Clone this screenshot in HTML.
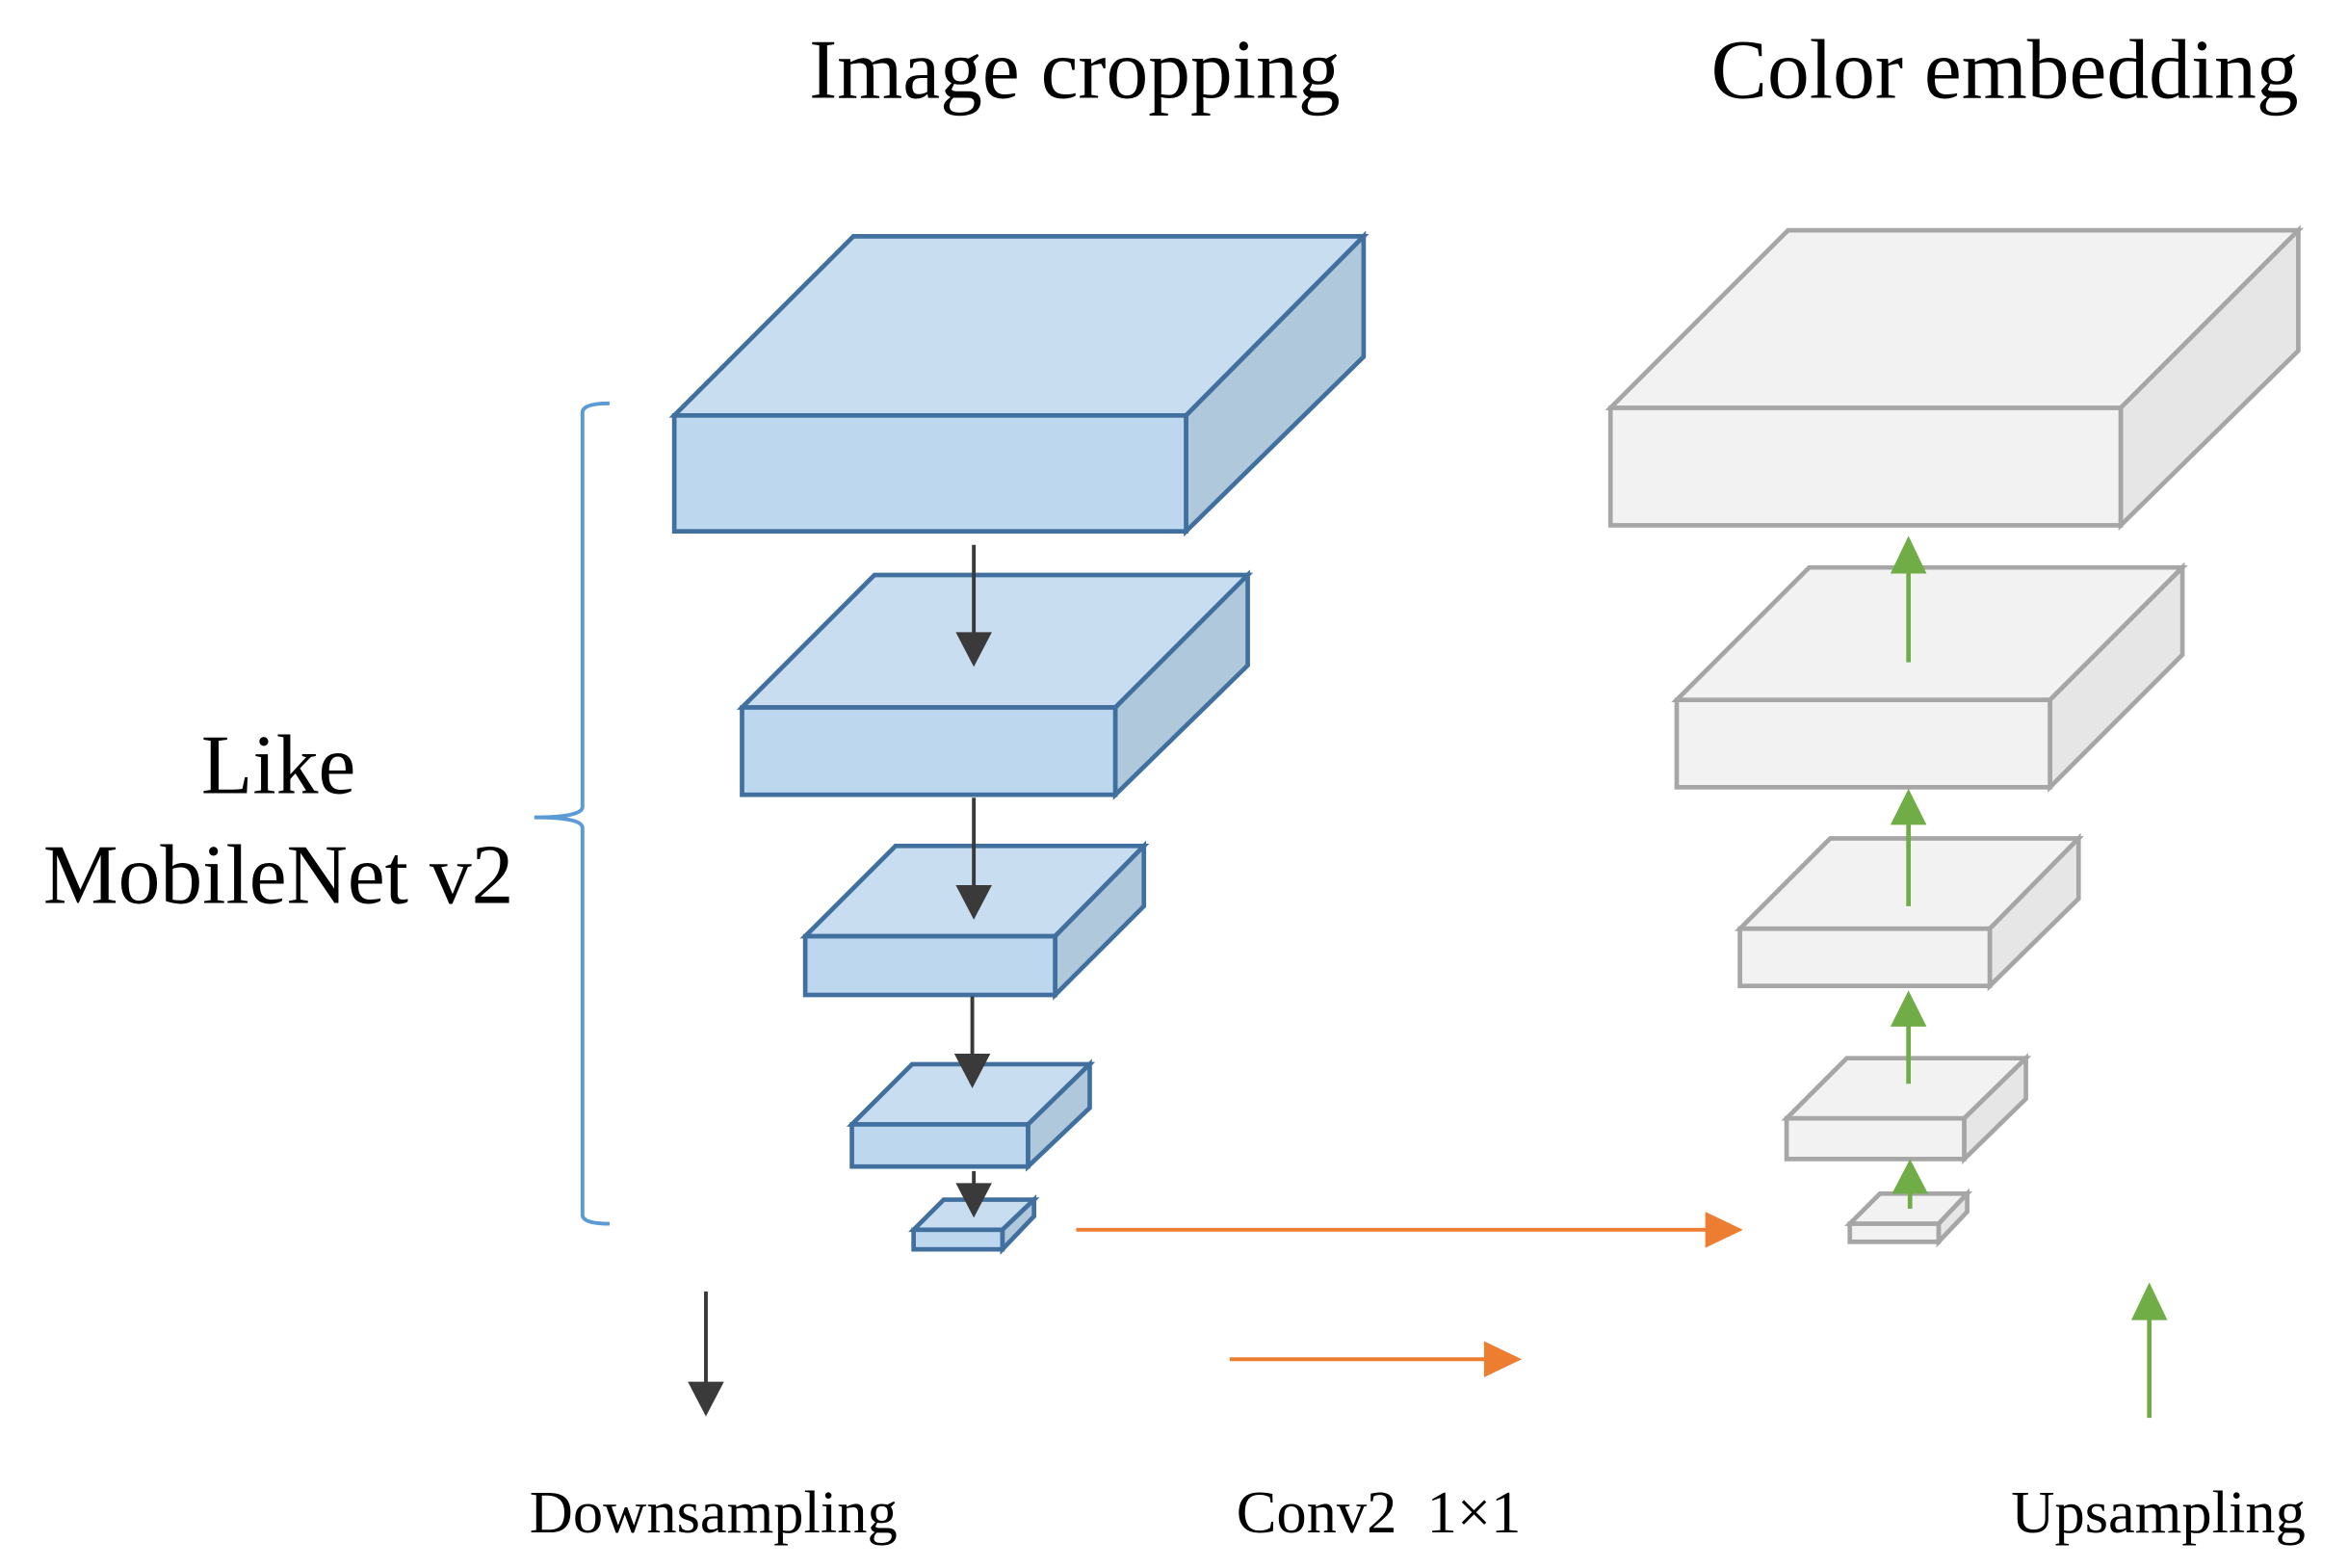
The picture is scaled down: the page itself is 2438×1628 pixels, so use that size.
<!DOCTYPE html>
<html><head><meta charset="utf-8"><style>html,body{margin:0;padding:0;background:#fff}svg{display:block}</style></head>
<body>
<svg width="2438" height="1628" viewBox="0 0 1560 1041.7" preserveAspectRatio="none" xmlns="http://www.w3.org/2000/svg" font-family="Liberation Serif, serif">
<defs>
<marker id="ad" markerWidth="8" markerHeight="8" refX="7" refY="4" orient="auto" markerUnits="userSpaceOnUse" viewBox="0 0 8 8"><path d="M0,0 L8,4 L0,8z" fill="#3a3a3a"/></marker>
</defs>
<g stroke="#41709f" stroke-width="3" stroke-linejoin="miter">
<!-- B1 -->
<polygon points="448,276 567,157 906,157 788,276" fill="#c8ddf0"/>
<polygon points="788,276 906,157 906,237 788,353" fill="#b0c8dc"/>
<rect x="448" y="276" width="340" height="77" fill="#bdd7ee"/>
<!-- B2 -->
<polygon points="493,470 581,382 829,382 741,470" fill="#c8ddf0"/>
<polygon points="741,470 829,382 829,442 741,528" fill="#b0c8dc"/>
<rect x="493" y="470" width="248" height="58" fill="#bdd7ee"/>
<!-- B3 -->
<polygon points="535,622 595,562 760,562 701,622" fill="#c8ddf0"/>
<polygon points="701,622 760,562 760,602 701,661" fill="#b0c8dc"/>
<rect x="535" y="622" width="166" height="39" fill="#bdd7ee"/>
<!-- B4 -->
<polygon points="566,747 606,707 724,707 683,747" fill="#c8ddf0"/>
<polygon points="683,747 724,707 724,736 683,775" fill="#b0c8dc"/>
<rect x="566" y="747" width="117" height="28" fill="#bdd7ee"/>
<!-- B5 -->
<polygon points="607,817 627,797 687,797 666,817" fill="#c8ddf0"/>
<polygon points="666,817 687,797 687,808 666,830" fill="#b0c8dc"/>
<rect x="607" y="817" width="59" height="13" fill="#bdd7ee"/>
</g>
<g stroke="#a6a6a6" stroke-width="3">
<polygon points="1070,271 1188,153 1527,153 1409,271" fill="#f2f2f2"/>
<polygon points="1409,271 1527,153 1527,233 1409,349" fill="#e6e6e6"/>
<rect x="1070" y="271" width="339" height="78" fill="#f2f2f2"/>
<polygon points="1114,465 1202,377 1450,377 1362,465" fill="#f2f2f2"/>
<polygon points="1362,465 1450,377 1450,435 1362,523" fill="#e6e6e6"/>
<rect x="1114" y="465" width="248" height="58" fill="#f2f2f2"/>
<polygon points="1156,617 1216,557 1381,557 1322,617" fill="#f2f2f2"/>
<polygon points="1322,617 1381,557 1381,597 1322,655" fill="#e6e6e6"/>
<rect x="1156" y="617" width="166" height="38" fill="#f2f2f2"/>
<polygon points="1187,743 1227,703 1346,703 1305,743" fill="#f2f2f2"/>
<polygon points="1305,743 1346,703 1346,730 1305,770" fill="#e6e6e6"/>
<rect x="1187" y="743" width="118" height="27" fill="#f2f2f2"/>
<polygon points="1229,813 1249,793 1307,793 1288,813" fill="#f2f2f2"/>
<polygon points="1288,813 1307,793 1307,805 1288,825" fill="#e6e6e6"/>
<rect x="1229" y="813" width="59" height="12" fill="#f2f2f2"/>
</g>
<!-- dark arrows -->
<g stroke="#3a3a3a" stroke-width="2.5">
<line x1="647" y1="362" x2="647" y2="422"/><line x1="647" y1="530" x2="647" y2="590"/>
<line x1="646" y1="662" x2="646" y2="702"/><line x1="647" y1="778" x2="647" y2="790"/>
<line x1="469" y1="858" x2="469" y2="920"/>
</g>
<g fill="#3a3a3a">
<path d="M635,420 L659,420 L647,443z"/><path d="M635,588 L659,588 L647,611z"/>
<path d="M634,700 L658,700 L646,723z"/><path d="M635,786 L659,786 L647,809z"/>
<path d="M457,918 L481,918 L469,941z"/>
</g>
<!-- orange -->
<g stroke="#ed7d31" stroke-width="2.5"><line x1="715" y1="817" x2="1135" y2="817"/><line x1="817" y1="903" x2="988" y2="903"/></g>
<g fill="#ed7d31"><path d="M1133,805 L1158,817 L1133,829z"/><path d="M986,891 L1011,903 L986,915z"/></g>
<!-- green -->
<g stroke="#70ad47" stroke-width="3"><line x1="1268" y1="440" x2="1268" y2="378"/><line x1="1268" y1="602" x2="1268" y2="545"/><line x1="1268" y1="720" x2="1268" y2="678"/><line x1="1269" y1="803" x2="1269" y2="790"/><line x1="1428" y1="942" x2="1428" y2="874"/></g>
<g fill="#70ad47"><path d="M1256,381 L1280,381 L1268,356z"/><path d="M1256,548 L1280,548 L1268,524z"/><path d="M1256,682 L1280,682 L1268,658z"/><path d="M1257,793 L1281,793 L1269,770z"/><path d="M1416,877 L1440,877 L1428,852z"/></g>
<!-- brace -->
<path d="M405,268 Q387,268 387,274 L387,536 Q387,543 355,543 Q387,543 387,550 L387,807 Q387,813 405,813" fill="none" stroke="#5b9bd5" stroke-width="2.5"/>
<g fill="#000" text-anchor="middle">
<text x="714" y="65" font-size="56">Image cropping</text>
<text x="1332" y="65" font-size="56">Color embedding</text>
<text x="185" y="527" font-size="56">Like</text>
<text x="185" y="600" font-size="56">MobileNet v2</text>
<text x="474" y="1018" font-size="40">Downsampling</text>
<text x="916" y="1018" font-size="40" xml:space="preserve">Conv2  1×1</text>
<text x="1434" y="1018" font-size="40">Upsampling</text>
</g>
</svg>
</body></html>
